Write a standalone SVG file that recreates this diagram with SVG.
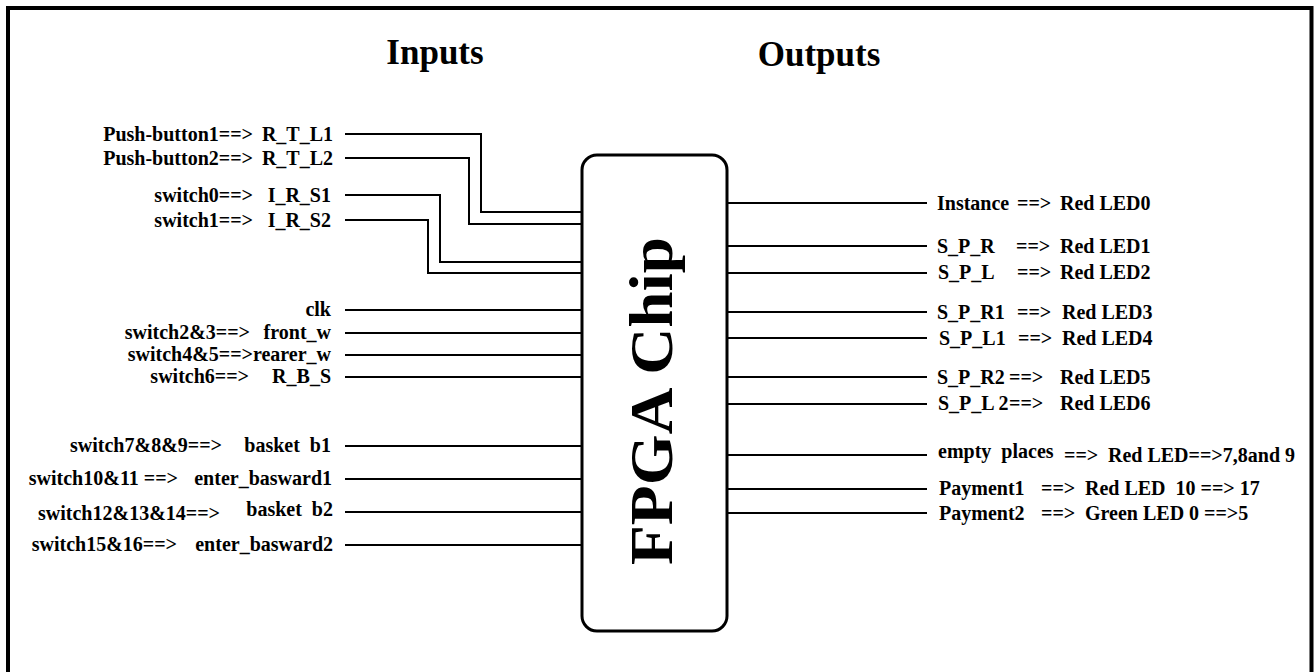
<svg xmlns="http://www.w3.org/2000/svg" width="1314" height="672" viewBox="0 0 1314 672">
<style>
.t{font-family:"Liberation Serif","Times New Roman",serif;font-weight:bold;font-size:20px;fill:#000;white-space:pre}
.e{text-anchor:end}
.ttl{font-family:"Liberation Serif","Times New Roman",serif;font-weight:bold;font-size:35px;fill:#000}
.w{fill:none;stroke:#000;stroke-width:2}
</style>
<rect width="1314" height="672" fill="#fff"/>
<path d="M8 690 V8 H1311.5 V690" fill="none" stroke="#000" stroke-width="4"/>
<g id="titles">
<text class="ttl" x="435" y="64" text-anchor="middle">Inputs</text>
<text class="ttl" x="819" y="66" text-anchor="middle">Outputs</text>
</g>
<g id="chip">
<rect x="582" y="155" width="145" height="476" rx="15" fill="#fff" stroke="#000" stroke-width="3"/>
<text transform="translate(672,401) rotate(-90)" text-anchor="middle" font-family="Liberation Serif, Times New Roman, serif" font-weight="bold" font-size="62" textLength="328" lengthAdjust="spacingAndGlyphs">FPGA Chip</text>
</g>
<g id="connectors">
<path class="w" d="M345 134 H481 V212 H582"/>
<path class="w" d="M345 158 H469 V224 H582"/>
<path class="w" d="M345 195 H440 V262 H582"/>
<path class="w" d="M345 220 H428 V273 H582"/>
<path class="w" d="M345 310 H582"/>
<path class="w" d="M345 333 H582"/>
<path class="w" d="M345 355 H582"/>
<path class="w" d="M345 377 H582"/>
<path class="w" d="M345 446 H582"/>
<path class="w" d="M345 479 H582"/>
<path class="w" d="M345 512 H582"/>
<path class="w" d="M345 545 H582"/>
<path class="w" d="M727 203 H927"/>
<path class="w" d="M727 246 H927"/>
<path class="w" d="M727 273 H927"/>
<path class="w" d="M727 312 H927"/>
<path class="w" d="M727 338 H927"/>
<path class="w" d="M727 377 H927"/>
<path class="w" d="M727 404 H927"/>
<path class="w" d="M727 455 H927"/>
<path class="w" d="M727 489 H927"/>
<path class="w" d="M727 513 H927"/>
</g>
<g id="in-rtl1"><text class="t e" x="253" y="141">Push-button1==&gt;</text><text class="t e" x="333" y="141">R_T_L1</text></g>
<g id="in-rtl2"><text class="t e" x="253" y="165">Push-button2==&gt;</text><text class="t e" x="333" y="165">R_T_L2</text></g>
<g id="in-irs1"><text class="t e" x="253" y="202">switch0==&gt;</text><text class="t e" x="331" y="202">I_R_S1</text></g>
<g id="in-irs2"><text class="t e" x="253" y="227">switch1==&gt;</text><text class="t e" x="331" y="227">I_R_S2</text></g>
<g id="in-clk"><text class="t e" x="331" y="316">clk</text></g>
<g id="in-front"><text class="t e" x="250" y="339">switch2&amp;3==&gt;</text><text class="t e" x="331" y="339">front_w</text></g>
<g id="in-rear"><text class="t e" x="253" y="361">switch4&amp;5==&gt;</text><text class="t e" x="331" y="361">rearer_w</text></g>
<g id="in-rbs"><text class="t e" x="249" y="383">switch6==&gt;</text><text class="t e" x="331" y="383">R_B_S</text></g>
<g id="in-b1"><text class="t e" x="222" y="452">switch7&amp;8&amp;9==&gt;</text><text class="t e" x="331" y="452">basket  b1</text></g>
<g id="in-eb1"><text class="t e" x="178" y="485">switch10&amp;11 ==&gt;</text><text class="t e" x="332" y="485">enter_basward1</text></g>
<g id="in-b2"><text class="t e" x="220" y="520">switch12&amp;13&amp;14==&gt;</text><text class="t e" x="333" y="516">basket  b2</text></g>
<g id="in-eb2"><text class="t e" x="177" y="551">switch15&amp;16==&gt;</text><text class="t e" x="333" y="551">enter_basward2</text></g>
<g id="out-led0"><text class="t" x="937" y="210">Instance</text><text class="t" x="1017" y="210">==&gt;</text><text class="t" x="1060" y="210">Red LED0</text></g>
<g id="out-led1"><text class="t" x="937" y="253">S_P_R</text><text class="t" x="1016" y="253">==&gt;</text><text class="t" x="1060" y="253">Red LED1</text></g>
<g id="out-led2"><text class="t" x="938" y="279">S_P_L</text><text class="t" x="1017" y="279">==&gt;</text><text class="t" x="1060" y="279">Red LED2</text></g>
<g id="out-led3"><text class="t" x="937" y="319">S_P_R1</text><text class="t" x="1017" y="319">==&gt;</text><text class="t" x="1062" y="319">Red LED3</text></g>
<g id="out-led4"><text class="t" x="939" y="345">S_P_L1</text><text class="t" x="1018" y="345">==&gt;</text><text class="t" x="1062" y="345">Red LED4</text></g>
<g id="out-led5"><text class="t" x="937" y="384">S_P_R2</text><text class="t" x="1009" y="384">==&gt;</text><text class="t" x="1060" y="384">Red LED5</text></g>
<g id="out-led6"><text class="t" x="938" y="410">S_P_L 2</text><text class="t" x="1009" y="410">==&gt;</text><text class="t" x="1060" y="410">Red LED6</text></g>
<g id="out-empty"><text class="t" x="938" y="458">empty  places</text><text class="t" x="1064" y="462">==&gt;</text><text class="t" x="1108" y="462">Red LED==&gt;7,8and 9</text></g>
<g id="out-pay1"><text class="t" x="939" y="495">Payment1</text><text class="t" x="1041" y="495">==&gt;</text><text class="t" x="1085" y="495">Red LED  10 ==&gt; 17</text></g>
<g id="out-pay2"><text class="t" x="939" y="520">Payment2</text><text class="t" x="1041" y="520">==&gt;</text><text class="t" x="1085" y="520">Green LED 0 ==&gt;5</text></g>
</svg>
